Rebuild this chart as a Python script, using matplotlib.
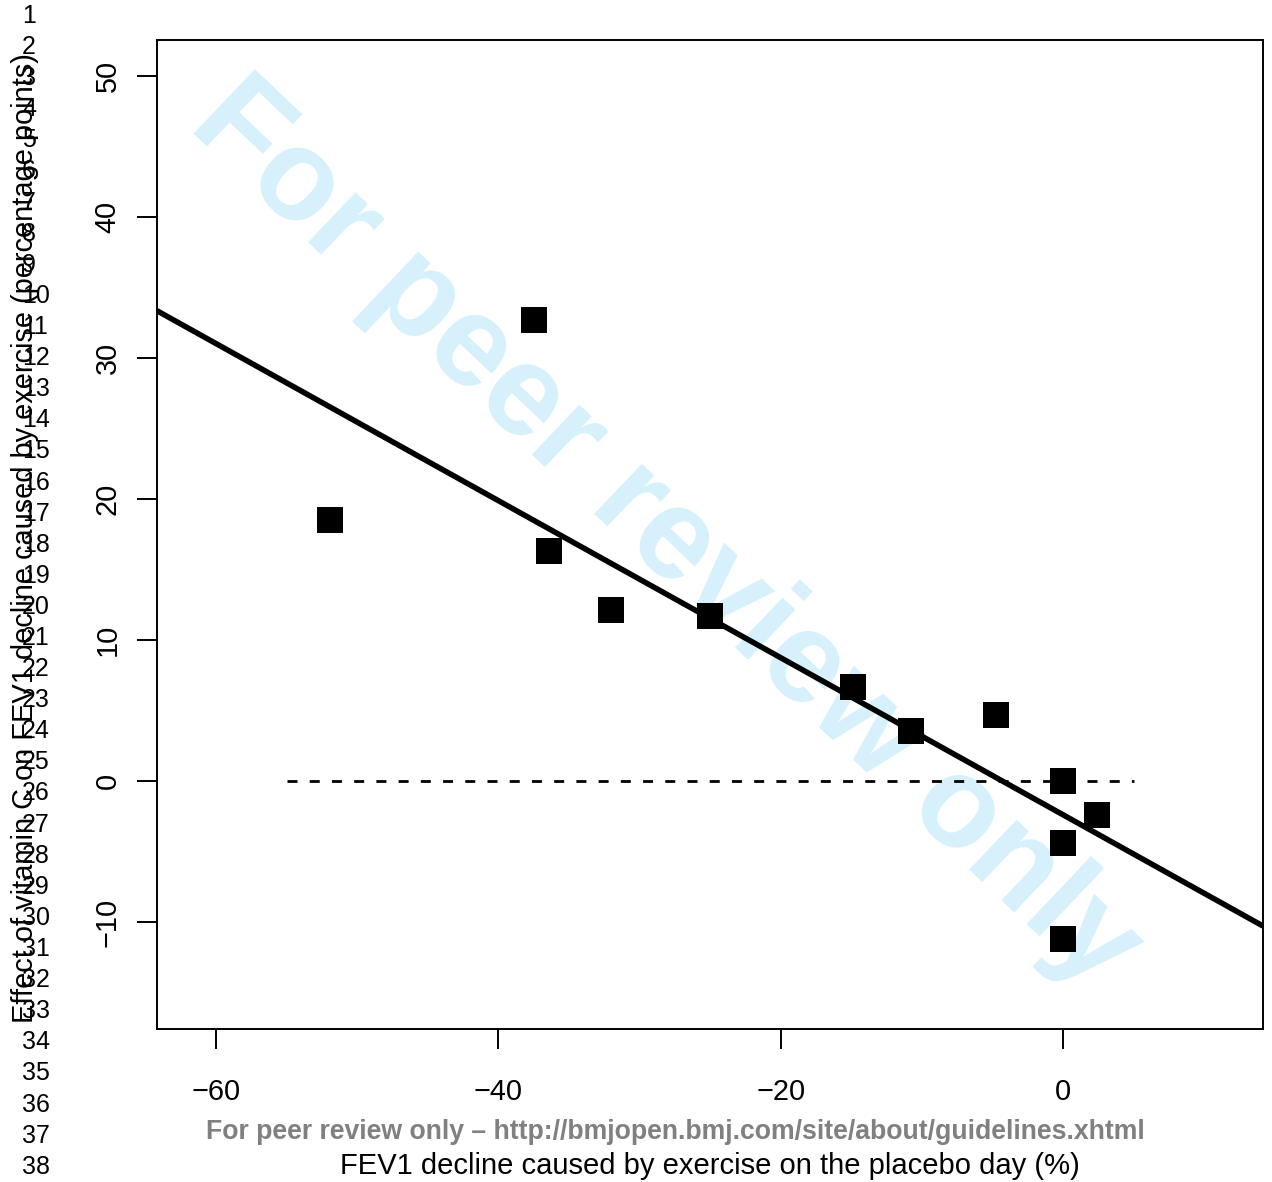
import matplotlib
matplotlib.use("Agg")
import matplotlib.pyplot as plt

plt.rcParams["font.family"] = ["Liberation Sans", "DejaVu Sans"]

# data
fev1_placebo = [-51.9, -37.5, -36.4, -32.0, -25.0, -14.9, -10.8, -4.75, 0.0, 2.4, 0.0, 0.0]
vitc_effect = [18.5, 32.7, 16.3, 12.1, 11.7, 6.7, 3.55, 4.7, 0.0, -2.4, -4.4, -11.2]
fit_intercept = -2.4
fit_slope = -0.557
x_ticks = [-60, -40, -20, 0]
y_ticks = [-10, 0, 10, 20, 30, 40, 50]
ref_x = [-55, 5]
ref_y = [0, 0]
line_numbers = list(range(1, 39))

W, H = 1272, 1182
fig = plt.figure(figsize=(W / 100, H / 100), dpi=100)
ax = fig.add_axes([157 / W, 1 - 1029 / H, (1263 - 157) / W, (1029 - 40) / H])
ax.set_facecolor("none")

xlim = (-64.18, 14.16)
ylim = (-17.59, 52.55)
ax.set_xlim(*xlim)
ax.set_ylim(*ylim)

# watermark
ax.text(665 / W, 1 - 535 / H, "For peer review only", transform=fig.transFigure,
        rotation=-43.5, rotation_mode="anchor", ha="center", va="center",
        fontsize=93, fontweight="bold", color="#D6F0FC", zorder=0)

ax.plot(ref_x, ref_y, color="black", lw=2, dashes=(3.6, 4.4), zorder=2)
ax.plot(list(xlim), [fit_intercept + fit_slope * v for v in xlim],
        color="black", lw=4, solid_capstyle="butt", zorder=3)
ax.scatter(fev1_placebo, vitc_effect, marker="s", s=330, color="black",
           linewidths=0, zorder=4)

ax.set_xticks(x_ticks)
ax.set_xticklabels([str(v).replace("-", "\u2212") for v in x_ticks])
ax.set_yticks(y_ticks)
ax.set_yticklabels([str(v).replace("-", "\u2212") for v in y_ticks],
                   rotation=90, va="center")
ax.tick_params(direction="out", length=14.5, width=1.4, labelsize=20.8)
ax.tick_params(axis="x", pad=21)
ax.tick_params(axis="y", pad=11)
for s in ax.spines.values():
    s.set_linewidth(1.4)

fig.text(710 / W, 1 - 1166 / H, "FEV1 decline caused by exercise on the placebo day (%)",
         ha="center", va="center", fontsize=21)
fig.text(25 / W, 1 - 538 / H,
         "Effect of vitamin C on FEV1 decline caused by exercise (percentage points)",
         ha="center", va="center", rotation=90, fontsize=20.9)
fig.text(675.5 / W, 1 - 1132 / H,
         "For peer review only \u2013 http://bmjopen.bmj.com/site/about/guidelines.xhtml",
         ha="center", va="center", fontsize=19.2, fontweight="bold", color="#808080")

for n in line_numbers:
    fig.text(22 / W, 1 - (16 + (n - 1) * 31.1) / H, str(n),
             ha="left", va="center", fontsize=18)

fig.savefig("out.png", dpi=100)
